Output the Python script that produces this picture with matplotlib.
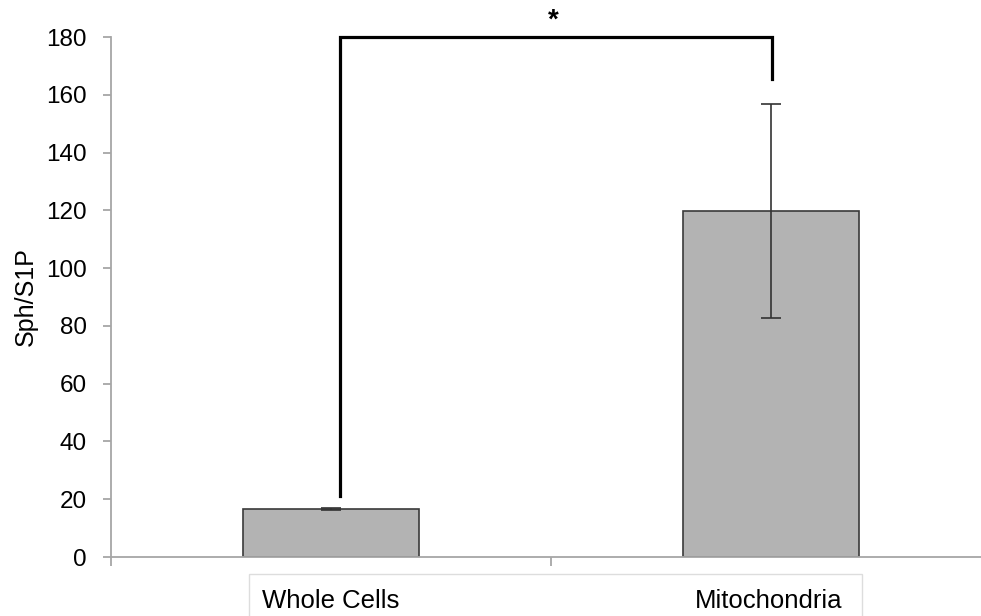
import matplotlib
matplotlib.use("Agg")
import matplotlib.pyplot as plt
from matplotlib.patches import Rectangle

categories = ["Whole Cells", "Mitochondria"]
values = [16.6, 119.7]
errors = [0.5, 37.0]
yticks = [0, 20, 40, 60, 80, 100, 120, 140, 160, 180]
ylabel = "Sph/S1P"
sig_label = "*"
bracket_left_bottom = 21.0
bracket_top = 180
bracket_right_bottom = 165.5

plt.rcParams['font.family'] = ['Liberation Sans', 'DejaVu Sans']

W, H = 981, 616
fig = plt.figure(figsize=(W / 100, H / 100), dpi=100)
ax = fig.add_axes([111 / W, 1 - 557 / H, 880 / W, 520 / H])

x = list(range(len(categories)))
ax.bar(x, values, width=0.4, color="#b3b3b3", edgecolor="#3a3a3a", linewidth=1.2, zorder=2)
ax.errorbar(x, values, yerr=errors, fmt="none", ecolor="#333333", elinewidth=1.2,
            capsize=7, capthick=1.2, zorder=3)

ax.set_xlim(-0.5, 1.5)
ax.set_ylim(0, 180)
ax.set_yticks(yticks)
ax.set_yticklabels([str(t) for t in yticks], fontsize=17.5)
ax.set_xticks([-0.5, 0.5, 1.5])
ax.set_xticklabels([])
for s in ["top", "right"]:
    ax.spines[s].set_visible(False)
for s in ["left", "bottom"]:
    ax.spines[s].set_color("#a6a6a6")
    ax.spines[s].set_linewidth(1.3)
ax.tick_params(axis="y", direction="out", length=5.5, width=1.3, color="#a6a6a6", pad=12)
ax.tick_params(axis="x", direction="out", length=6.5, width=1.3, color="#a6a6a6")
ax.set_ylabel(ylabel, fontsize=18, labelpad=6)

# significance bracket
bx0, bx1 = 0.02, 1.002
ax.plot([bx0, bx0, bx1, bx1],
        [bracket_left_bottom, bracket_top, bracket_top, bracket_right_bottom],
        color="black", linewidth=2.3, clip_on=False, zorder=4, solid_joinstyle="miter")
ax.text(0.505, bracket_top + 5.5, sig_label, ha="center", va="center",
        fontsize=20, fontweight="bold", clip_on=False)

# category label box
fig.patches.append(Rectangle((249 / W, -0.05), (862 - 249) / W, 0.05 + 1 - 574 / H,
                             transform=fig.transFigure, facecolor="none",
                             edgecolor="#dddddd", linewidth=1.0))
fig.text(262 / W, 1 - 608 / H, categories[0], ha="left", va="baseline", fontsize=18.5)
fig.text(842 / W, 1 - 608 / H, categories[1], ha="right", va="baseline", fontsize=18.5)

fig.savefig("out.png", dpi=100)
